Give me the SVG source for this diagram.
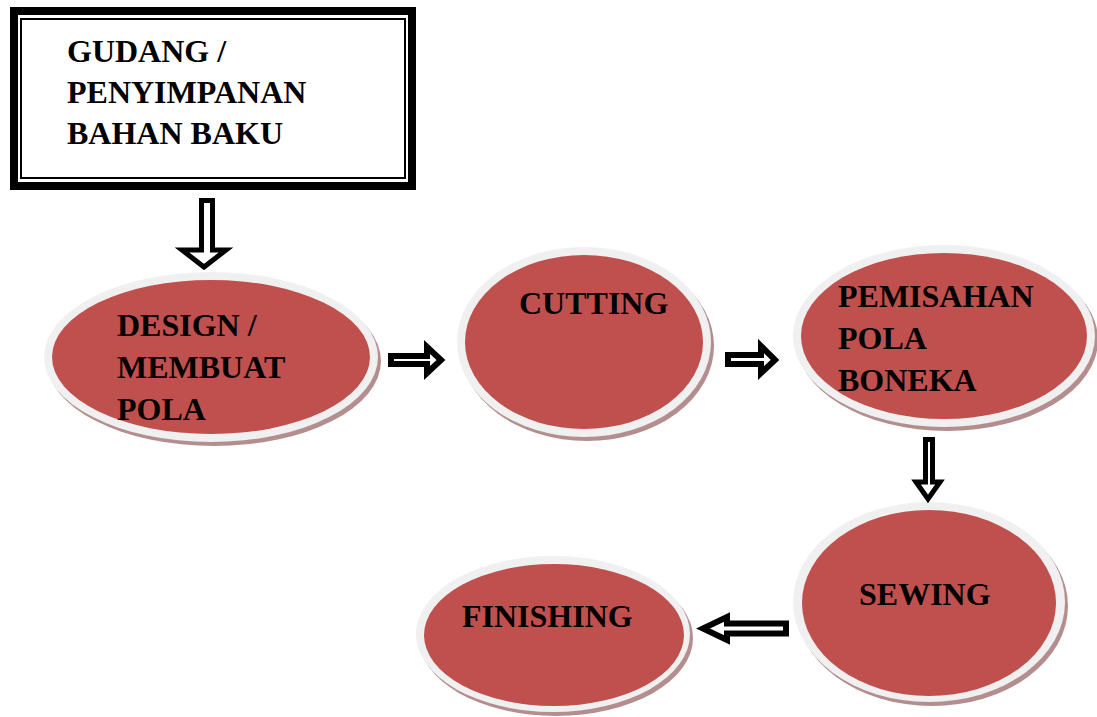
<svg xmlns="http://www.w3.org/2000/svg" width="1097" height="717" viewBox="0 0 1097 717">
<style>
.rim{fill:#f0f0f0;}
.sh{fill:#b48e8e;}
.red{fill:#c0504d;}
.t{font-family:"Liberation Serif","Times New Roman",serif;font-weight:bold;font-size:32px;fill:#000;}
.arr{fill:#fff;stroke:#000;stroke-linejoin:miter;}
</style>
<rect width="1097" height="717" fill="#fff"/>
<g id="gudang">
<rect x="14" y="11" width="398" height="175" fill="#fff" stroke="#000" stroke-width="8"/>
<rect x="21" y="19" width="384" height="159" fill="none" stroke="#000" stroke-width="2"/>
<text class="t" x="67" y="62">GUDANG /</text>
<text class="t" x="67" y="103">PENYIMPANAN</text>
<text class="t" x="67" y="144">BAHAN BAKU</text>
</g>
<g id="design">
<ellipse class="sh" cx="214" cy="361" rx="167" ry="85"/>
<ellipse class="rim" cx="211" cy="357" rx="167" ry="85"/>
<ellipse class="red" cx="211" cy="357" rx="159" ry="77"/>
<text class="t" x="117" y="336">DESIGN /</text>
<text class="t" x="117" y="378">MEMBUAT</text>
<text class="t" x="117" y="420">POLA</text>
</g>
<g id="cutting">
<ellipse class="sh" cx="587" cy="346" rx="127" ry="95"/>
<ellipse class="rim" cx="584" cy="342" rx="127" ry="95"/>
<ellipse class="red" cx="584" cy="342" rx="119" ry="87"/>
<text class="t" x="519" y="314">CUTTING</text>
</g>
<g id="pemisahan">
<ellipse class="sh" cx="947" cy="340" rx="151" ry="91"/>
<ellipse class="rim" cx="944" cy="336" rx="151" ry="91"/>
<ellipse class="red" cx="944" cy="336" rx="143" ry="83"/>
<text class="t" x="838" y="307">PEMISAHAN</text>
<text class="t" x="838" y="349">POLA</text>
<text class="t" x="838" y="391">BONEKA</text>
</g>
<g id="sewing">
<ellipse class="sh" cx="932" cy="606" rx="136" ry="100"/>
<ellipse class="rim" cx="929" cy="602" rx="136" ry="100"/>
<ellipse class="red" cx="929" cy="603" rx="127" ry="93"/>
<text class="t" x="859" y="605">SEWING</text>
</g>
<g id="finishing">
<ellipse class="sh" cx="556" cy="638" rx="137" ry="78"/>
<ellipse class="rim" cx="553" cy="634" rx="137" ry="78"/>
<ellipse class="red" cx="554" cy="635" rx="130" ry="71"/>
<text class="t" x="462" y="627">FINISHING</text>
</g>
<g id="connectors">
<path class="arr" stroke-width="5" d="M201.5,200.5 H212.5 V250 H226 L204,267 L182,250 H201.5 Z"/>
<path class="arr" stroke-width="6" d="M391,356 H427 V347 L441,360 L427,373 V364 H391 Z"/>
<path class="arr" stroke-width="6" d="M728,355 H761 V346 L775,360 L761,373 V364 H728 Z"/>
<path class="arr" stroke-width="5" d="M925.5,439.5 H932.5 V482 H940 L928,499 L916,482 H925.5 Z"/>
<path class="arr" stroke-width="6" d="M786,623.5 H727 V617 L703,628.5 L727,640 V633.5 H786 Z"/>
</g>
</svg>
